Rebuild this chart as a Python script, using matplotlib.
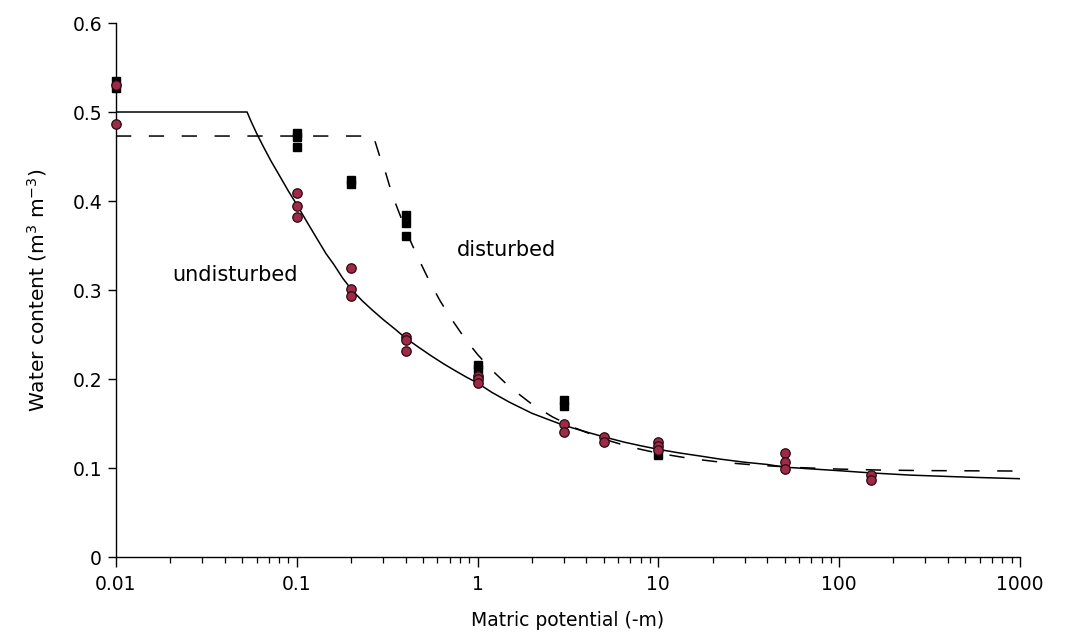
import matplotlib
matplotlib.use('Agg')
import matplotlib.pyplot as plt
from matplotlib.ticker import FixedLocator, LogLocator, FuncFormatter, NullFormatter

# measured points - disturbed (black squares)
dist_x = [0.01, 0.01, 0.1, 0.1, 0.1, 0.2, 0.2, 0.4, 0.4, 0.4, 1, 1, 3, 3, 10]
dist_y = [0.535, 0.527, 0.476, 0.472, 0.461, 0.424, 0.419, 0.384, 0.375, 0.361,
          0.216, 0.211, 0.176, 0.170, 0.115]

# measured points - undisturbed (red circles)
undist_x = [0.01, 0.01, 0.1, 0.1, 0.1, 0.2, 0.2, 0.2, 0.4, 0.4, 0.4, 1, 1, 1,
            3, 3, 5, 5, 10, 10, 10, 50, 50, 50, 150, 150]
undist_y = [0.530, 0.487, 0.409, 0.394, 0.382, 0.325, 0.301, 0.293, 0.247, 0.244, 0.231,
            0.203, 0.200, 0.195, 0.149, 0.140, 0.135, 0.129, 0.129, 0.125, 0.120,
            0.117, 0.107, 0.099, 0.092, 0.086]

# fitted curve - undisturbed
fit_u_x = [0.01, 0.0531, 0.056, 0.06, 0.065, 0.072, 0.08, 0.09, 0.1, 0.115, 0.13, 0.145, 0.16,
           0.18, 0.2, 0.23, 0.26, 0.3, 0.35, 0.4, 0.47, 0.55, 0.65, 0.75, 0.87, 1.0,
           1.2, 1.5, 2, 2.5, 3, 4, 5, 6.5, 8, 10, 13, 17, 22, 30, 40, 50, 70, 100,
           150, 250, 400, 600, 1000]
fit_u_y = [0.500, 0.500, 0.489, 0.476, 0.462, 0.445, 0.429, 0.411, 0.396, 0.375, 0.357, 0.341, 0.329,
           0.313, 0.301, 0.288, 0.278, 0.267, 0.256, 0.246, 0.236, 0.2265, 0.217, 0.2095, 0.202, 0.1955,
           0.185, 0.174, 0.1615, 0.154, 0.148, 0.1405, 0.135, 0.129, 0.125, 0.121, 0.117, 0.1135, 0.110,
           0.1065, 0.104, 0.101, 0.099, 0.097, 0.0945, 0.092, 0.0905, 0.0893, 0.088]

# fitted curve - disturbed
fit_d_x = [0.01, 0.265, 0.275, 0.29, 0.31, 0.335, 0.36, 0.39, 0.43, 0.48, 0.54, 0.62,
           0.72, 0.85, 1.0, 1.2, 1.5, 2, 2.6, 3.5, 5, 7, 10, 15, 22, 35, 60, 100,
           170, 300, 600, 1000]
fit_d_y = [0.473, 0.473, 0.463, 0.448, 0.432, 0.409, 0.392, 0.374, 0.353, 0.332, 0.3105, 0.288,
           0.267, 0.2457, 0.2276, 0.210, 0.1913, 0.1717, 0.1574, 0.1446, 0.1324, 0.1236, 0.1166,
           0.1107, 0.1066, 0.1032, 0.1005, 0.0988, 0.0977, 0.0971, 0.0968, 0.0966]

fig = plt.figure(figsize=(10.69, 6.39), dpi=100)
ax = fig.add_axes([0.1085, 0.1283, 0.8455, 0.8357])

ax.plot(fit_u_x, fit_u_y, color='black', lw=1.1, zorder=2)
ax.plot(fit_d_x, fit_d_y, color='black', lw=1.1, linestyle=(0, (10, 11.5)), zorder=2)

ax.plot(dist_x, dist_y, linestyle='none', marker='s', markersize=5.2,
        color='black', clip_on=False, zorder=4)
ax.plot(undist_x, undist_y, linestyle='none', marker='o', markersize=6.8,
        markerfacecolor='#9e2a48', markeredgecolor='#2a0a10', markeredgewidth=0.9,
        clip_on=False, zorder=5)

ax.text(0.0204, 0.317, 'undisturbed', fontsize=15, va='center', ha='left')
ax.text(0.773, 0.345, 'disturbed', fontsize=15, va='center', ha='left')

ax.set_xscale('log')
ax.set_xlim(0.01, 1000)
ax.set_ylim(0, 0.6)
ax.xaxis.set_major_locator(FixedLocator([0.01, 0.1, 1, 10, 100, 1000]))
ax.xaxis.set_minor_locator(LogLocator(base=10, subs=range(2, 10)))
ax.xaxis.set_minor_formatter(NullFormatter())
ax.xaxis.set_major_formatter(FuncFormatter(lambda v, p: '%g' % v))
ax.set_yticks([0, 0.1, 0.2, 0.3, 0.4, 0.5, 0.6])
ax.yaxis.set_major_formatter(FuncFormatter(lambda v, p: '%g' % v))

for s in ['top', 'right']:
    ax.spines[s].set_visible(False)
for s in ['left', 'bottom']:
    ax.spines[s].set_linewidth(1.0)

ax.tick_params(axis='x', which='major', direction='out', length=7, width=1, labelsize=13.5, pad=6)
ax.tick_params(axis='x', which='minor', direction='out', length=4.5, width=0.9)
ax.tick_params(axis='y', which='major', direction='out', length=6, width=1, labelsize=13.5, pad=4)

ax.set_xlabel('Matric potential (-m)', fontsize=13.5, labelpad=12)
ax.set_ylabel('Water content (m$^3$ m$^{-3}$)', fontsize=14.5, labelpad=17)

plt.savefig('out.png', dpi=100)
